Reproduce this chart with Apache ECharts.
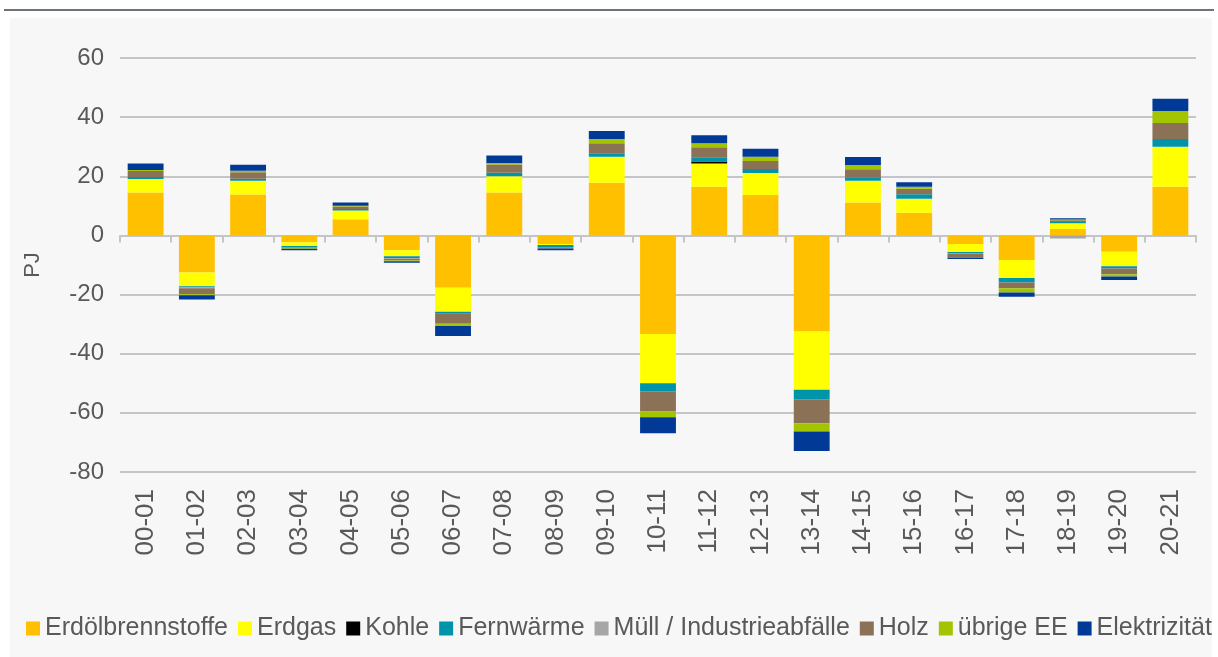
<!DOCTYPE html>
<html lang="de">

<head>
  <meta charset="UTF-8">
  <title>Veränderung</title>
  <style>
    body {
      margin: 0;
      background: #fff;
    }

    #topline {
      position: absolute;
      left: 4px;
      width: 1210px;
      top: 9px;
      height: 2px;
      background: #6d737a;
    }

    #panel {
      position: absolute;
      left: 10px;
      width: 1202px;
      top: 18px;
      bottom: 0;
      background: #f7f7f7;
    }

    #chart {
      position: absolute;
      left: 0;
      top: 0;
      width: 1218px;
      height: 657px;
    }
  </style>
</head>

<body>
  <div id="topline"></div>
  <div id="panel"></div>
  <div id="chart"></div>
  <script src="https://cdn.jsdelivr.net/npm/echarts@6/dist/echarts.min.js"></script>
  <script>
    // Jahresvergleiche
    var years = ['00-01', '01-02', '02-03', '03-04', '04-05', '05-06', '06-07', '07-08', '08-09', '09-10', '10-11',
      '11-12', '12-13', '13-14', '14-15', '15-16', '16-17', '17-18', '18-19', '19-20', '20-21'];

    // Veränderung in PJ je Energieträger
    var erdoel = [14.5, -12.5, 13.8, -2.3, 5.5, -5.0, -17.7, 14.5, -2.9, 17.8, -33.3, 16.5, 13.7, -32.5, 11.1, 7.7, -2.9, -8.3, 2.2, -5.5, 16.5];
    var erdgas = [4.6, -4.7, 4.7, -1.3, 2.9, -2.0, -8.1, 5.5, -0.3, 8.8, -16.7, 7.8, 7.4, -19.7, 7.4, 4.7, -2.7, -6.1, 1.9, -4.9, 13.5];
    var kohle = [0, 0, 0, 0, 0, 0, 0, 0, 0, 0, 0, 0.7, 0, 0, 0, 0, 0, 0, 0, 0, 0];
    var fernwaerme = [0.7, -0.4, 0.7, -0.3, 0.5, -0.6, -0.7, 1.2, -0.9, 1.2, -2.7, 1.4, 1.4, -3.2, 1.2, 1.5, -0.3, -1.5, 0.4, -0.8, 2.6];
    var muell = [0, -0.3, 0, 0, 0, -0.3, 0, 0, 0, 0, 0, 0, 0, 0, 0, 0, -0.2, 0, -1.0, 0, 0];
    var holz = [2.0, -2.0, 2.2, -0.3, 0.9, -0.6, -3.4, 2.8, -0.3, 3.4, -6.8, 3.4, 2.7, -8.1, 2.7, 1.9, -1.2, -2.0, 0.6, -1.9, 5.4];
    var uebrigeEE = [0.3, -0.3, 0.5, -0.3, 0.2, -0.2, -0.7, 0.5, 0, 1.4, -2.0, 1.4, 1.4, -2.8, 1.4, 0.7, -0.2, -1.4, 0.3, -0.8, 4.1];
    var elektrizitaet = [2.2, -1.5, 2.0, -0.5, 1.1, -0.5, -3.4, 2.5, -0.6, 2.7, -5.4, 2.7, 2.7, -6.6, 2.7, 1.5, -0.5, -1.4, 0.4, -1.2, 4.1];

    var yTicks = [-80, -60, -40, -20, 0, 20, 40, 60];

    var fontFam = "'Liberation Sans', Arial, sans-serif";
    var textCol = '#595959';
    var gridCol = '#c3c5c8';

    var myChart = echarts.init(document.getElementById('chart'), null, { renderer: 'canvas' });

    function mk(name, data, color) {
      return {
        name: name,
        type: 'bar',
        stack: 'gesamt',
        barCategoryGap: '30%',
        data: data,
        itemStyle: { color: color },
        emphasis: { disabled: true }
      };
    }

    var option = {
      backgroundColor: 'transparent',
      animation: false,
      textStyle: { fontFamily: fontFam },
      grid: { left: 120, right: 22, top: 58, bottom: 185 },
      legend: {
        bottom: 11,
        left: 21,
        width: 1196,
        padding: 5,
        itemWidth: 14,
        itemHeight: 14,
        itemGap: 10,
        icon: 'rect',
        textStyle: { fontSize: 25, color: textCol, fontFamily: fontFam, padding: [0, 0, 0, 0] }
      },
      xAxis: [{
        type: 'category',
        data: years,
        axisLine: { onZero: true, lineStyle: { color: gridCol, width: 2 } },
        axisTick: { show: true, length: 7, lineStyle: { color: gridCol, width: 2 } },
        axisLabel: { show: false }
      }, {
        type: 'category',
        data: years,
        position: 'bottom',
        axisLine: { show: false, onZero: false },
        axisTick: { show: false },
        axisLabel: { rotate: 90, margin: 17, fontSize: 26, color: textCol, fontFamily: fontFam }
      }],
      yAxis: {
        type: 'value',
        min: yTicks[0],
        max: yTicks[yTicks.length - 1],
        interval: 20,
        name: 'PJ',
        nameLocation: 'middle',
        nameGap: 76,
        nameRotate: 90,
        nameTextStyle: { fontSize: 22, color: textCol },
        axisLine: { show: false },
        axisTick: { show: false },
        axisLabel: { margin: 16, fontSize: 24, color: textCol, fontFamily: fontFam },
        splitLine: { lineStyle: { color: gridCol, width: 2 } }
      },
      series: [
        mk('Erdölbrennstoffe', erdoel, '#ffc000'),
        mk('Erdgas', erdgas, '#ffff00'),
        mk('Kohle', kohle, '#000000'),
        mk('Fernwärme', fernwaerme, '#0094aa'),
        mk('Müll / Industrieabfälle', muell, '#a6a6a6'),
        mk('Holz', holz, '#8b7257'),
        mk('übrige EE', uebrigeEE, '#a3c400'),
        mk('Elektrizität', elektrizitaet, '#003a96')
      ]
    };

    myChart.setOption(option);
  </script>
</body>

</html>
